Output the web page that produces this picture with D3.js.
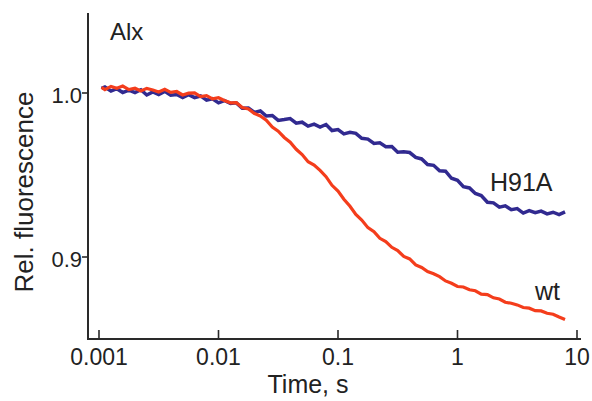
<!DOCTYPE html>
<html>
<head>
<meta charset="utf-8" />
<style>
body {
  margin: 0;
  background-color: white;
}
svg {
  display: block;
}
text {
  font-family: "Liberation Sans", Arial, sans-serif;
  fill: #222;
}
</style>
<script src="https://cdnjs.cloudflare.com/ajax/libs/d3/7.8.5/d3.min.js"></script>
</head>
<body>
<div id="svg-chart"></div>

<script>
// time points (s), shared by both traces
var times = [
  0.00105, 0.00112, 0.00126, 0.00141, 0.00158, 0.00178, 0.00200, 0.00224, 0.00251, 0.00282,
  0.00316, 0.00355, 0.00398, 0.00447, 0.00501, 0.00562, 0.00631, 0.00708, 0.00794, 0.00891,
  0.0100, 0.0112, 0.0126, 0.0141, 0.0158, 0.0178, 0.0200, 0.0224, 0.0251, 0.0282,
  0.0316, 0.0355, 0.0398, 0.0447, 0.0501, 0.0562, 0.0631, 0.0708, 0.0794, 0.0891,
  0.100, 0.112, 0.126, 0.141, 0.158, 0.178, 0.200, 0.224, 0.251, 0.282,
  0.316, 0.355, 0.398, 0.447, 0.501, 0.562, 0.631, 0.708, 0.794, 0.891,
  1.00, 1.12, 1.26, 1.41, 1.58, 1.78, 2.00, 2.24, 2.51, 2.82,
  3.16, 3.55, 3.98, 4.47, 5.01, 5.62, 6.31, 7.08, 7.94
];

// H91A trace (blue)
var h91a = [
  1.0028, 1.0037, 1.0012, 1.0026, 1.0003, 1.0018, 1.0003, 1.0020, 0.9988, 1.0007,
  0.9991, 1.0010, 0.9987, 0.9991, 0.9972, 0.9990, 0.9972, 0.9982, 0.9956, 0.9965,
  0.9940, 0.9954, 0.9936, 0.9940, 0.9907, 0.9909, 0.9882, 0.9891, 0.9860, 0.9863,
  0.9833, 0.9838, 0.9844, 0.9816, 0.9822, 0.9798, 0.9810, 0.9792, 0.9808, 0.9771,
  0.9777, 0.9751, 0.9760, 0.9754, 0.9724, 0.9719, 0.9692, 0.9696, 0.9672, 0.9674,
  0.9639, 0.9641, 0.9637, 0.9607, 0.9598, 0.9564, 0.9559, 0.9526, 0.9523, 0.9480,
  0.9468, 0.9429, 0.9421, 0.9387, 0.9375, 0.9334, 0.9330, 0.9304, 0.9312, 0.9288,
  0.9295, 0.9268, 0.9283, 0.9270, 0.9280, 0.9263, 0.9273, 0.9258, 0.9275
];

// wild type trace (red)
var wt = [
  1.0034, 1.0021, 1.0040, 1.0029, 1.0042, 1.0021, 1.0029, 1.0012, 1.0028, 1.0018,
  1.0006, 1.0023, 1.0004, 1.0009, 0.9988, 0.9999, 1.0001, 0.9978, 0.9984, 0.9964,
  0.9971, 0.9954, 0.9940, 0.9941, 0.9912, 0.9903, 0.9875, 0.9860, 0.9834, 0.9792,
  0.9767, 0.9729, 0.9700, 0.9657, 0.9625, 0.9581, 0.9561, 0.9528, 0.9490, 0.9437,
  0.9402, 0.9352, 0.9309, 0.9259, 0.9225, 0.9179, 0.9154, 0.9114, 0.9094, 0.9059,
  0.9039, 0.9003, 0.8988, 0.8952, 0.8936, 0.8911, 0.8898, 0.8880, 0.8854, 0.8840,
  0.8820, 0.8817, 0.8800, 0.8794, 0.8774, 0.8771, 0.8751, 0.8744, 0.8724, 0.8718,
  0.8708, 0.8692, 0.8688, 0.8673, 0.8671, 0.8657, 0.8651, 0.8634, 0.8619
];

var xTicks = [0.001, 0.01, 0.1, 1, 10];
var xTickLabels = ["0.001", "0.01", "0.1", "1", "10"];
var yTicks = [0.9, 1.0];
var yTickLabels = ["0.9", "1.0"];

var width = 592, height = 401;

var svg = d3.select("#svg-chart")
  .append("svg")
  .attr("width", width)
  .attr("height", height);

var xScale = d3.scaleLog()
  .domain([0.001, 10])
  .range([99, 577]);

var yScale = d3.scaleLinear()
  .domain([0.85, 1.05])
  .range([339, 11]);

var axisLeft = 88, axisBottom = 339;

// axis lines
svg.append("line")
  .attr("x1", axisLeft).attr("x2", axisLeft)
  .attr("y1", 13).attr("y2", axisBottom)
  .attr("stroke", "#2a2a2a").attr("stroke-width", 2);

svg.append("line")
  .attr("x1", axisLeft - 1).attr("x2", 581)
  .attr("y1", axisBottom).attr("y2", axisBottom)
  .attr("stroke", "#2a2a2a").attr("stroke-width", 2);

// x ticks point inwards
svg.selectAll(".xtick")
  .data(xTicks)
  .enter().append("line")
  .attr("class", "xtick")
  .attr("x1", function(d) { return xScale(d) })
  .attr("x2", function(d) { return xScale(d) })
  .attr("y1", axisBottom)
  .attr("y2", axisBottom - 9)
  .attr("stroke", "#2a2a2a").attr("stroke-width", 1.6);

svg.selectAll(".xlabel")
  .data(xTicks)
  .enter().append("text")
  .attr("class", "xlabel")
  .attr("x", function(d) { return xScale(d) })
  .attr("y", 365)
  .attr("text-anchor", "middle")
  .attr("font-size", "23px")
  .text(function(d, i) { return xTickLabels[i] });

// y ticks point outwards
svg.selectAll(".ytick")
  .data(yTicks)
  .enter().append("line")
  .attr("class", "ytick")
  .attr("x1", axisLeft - 6)
  .attr("x2", axisLeft)
  .attr("y1", function(d) { return yScale(d) })
  .attr("y2", function(d) { return yScale(d) })
  .attr("stroke", "#2a2a2a").attr("stroke-width", 1.6);

svg.selectAll(".ylabel")
  .data(yTicks)
  .enter().append("text")
  .attr("class", "ylabel")
  .attr("x", 82)
  .attr("y", function(d) { return yScale(d) + 10 })
  .attr("text-anchor", "end")
  .attr("font-size", "22px")
  .text(function(d, i) { return yTickLabels[i] });

// traces
var line = d3.line()
  .x(function(d) { return xScale(d[0]) })
  .y(function(d) { return yScale(d[1]) });

svg.append("path")
  .datum(times.map(function(t, i) { return [t, h91a[i]] }))
  .attr("d", line)
  .attr("fill", "none")
  .attr("stroke", "#312a90")
  .attr("stroke-width", 3.5)
  .attr("stroke-linejoin", "miter");

svg.append("path")
  .datum(times.map(function(t, i) { return [t, wt[i]] }))
  .attr("d", line)
  .attr("fill", "none")
  .attr("stroke", "#f43d1c")
  .attr("stroke-width", 3.2)
  .attr("stroke-linejoin", "miter");

// axis titles
svg.append("text")
  .attr("text-anchor", "middle")
  .attr("x", 308)
  .attr("y", 393)
  .attr("font-size", "25px")
  .text("Time, s");

svg.append("text")
  .attr("text-anchor", "middle")
  .attr("transform", "translate(33,192)rotate(-90)")
  .attr("font-size", "26px")
  .text("Rel. fluorescence");

// annotations
svg.append("text")
  .attr("x", 110).attr("y", 40)
  .attr("font-size", "24px")
  .text("Alx");

svg.append("text")
  .attr("x", 490).attr("y", 191)
  .attr("font-size", "25px")
  .text("H91A");

svg.append("text")
  .attr("x", 535).attr("y", 300)
  .attr("font-size", "25px")
  .text("wt");
</script>
</body>
</html>
